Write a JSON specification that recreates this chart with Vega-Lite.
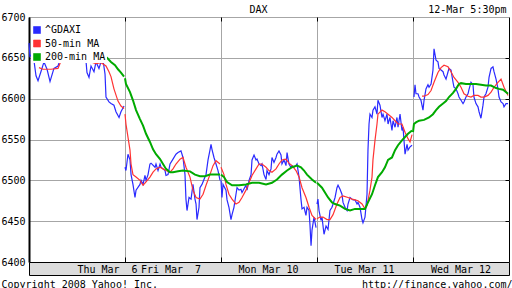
{
"$schema": "https://vega.github.io/schema/vega-lite/v6.json",
"background": "white",
"autosize": {"type": "pad"},
"padding": {"left": 0, "top": 3, "right": 0, "bottom": 0},
"bounds": "flush",
"spacing": 0,
"config": {
  "font": "DejaVu Sans Mono",
  "axis": {"labelFont": "DejaVu Sans Mono", "labelFontSize": 10, "labelColor": "#000", "titleFont": "DejaVu Sans Mono", "titleFontSize": 10, "titleFontWeight": "normal", "titleColor": "#000"},
  "legend": {"labelFont": "DejaVu Sans Mono", "labelFontSize": 10, "labelColor": "#000", "orient": "none", "legendX": 2, "legendY": 7, "direction": "vertical", "symbolType": "square", "symbolSize": 49, "symbolStrokeWidth": 0.6, "symbolStrokeColor": "#222", "labelOffset": 3, "rowPadding": 3.5, "padding": 1, "fillColor": "white", "labelLimit": 0}
},
"datasets": {"px": [
{"s":"^GDAXI","d":0,"t":0.000,"v":6668},{"s":"^GDAXI","d":0,"t":0.010,"v":6652},{"s":"^GDAXI","d":0,"t":0.042,"v":6655},{"s":"^GDAXI","d":0,"t":0.073,"v":6628},{"s":"^GDAXI","d":0,"t":0.094,"v":6622},{"s":"^GDAXI","d":0,"t":0.135,"v":6637},{"s":"^GDAXI","d":0,"t":0.156,"v":6645},{"s":"^GDAXI","d":0,"t":0.188,"v":6636},{"s":"^GDAXI","d":0,"t":0.219,"v":6621},{"s":"^GDAXI","d":0,"t":0.260,"v":6637},{"s":"^GDAXI","d":0,"t":0.302,"v":6640},{"s":"^GDAXI","d":0,"t":0.323,"v":6647},{"s":"^GDAXI","d":0,"t":0.354,"v":6661},{"s":"^GDAXI","d":0,"t":0.438,"v":6662},{"s":"^GDAXI","d":0,"t":0.521,"v":6660},{"s":"^GDAXI","d":0,"t":0.583,"v":6661},{"s":"^GDAXI","d":0,"t":0.604,"v":6632},{"s":"^GDAXI","d":0,"t":0.625,"v":6626},{"s":"^GDAXI","d":0,"t":0.646,"v":6640},{"s":"^GDAXI","d":0,"t":0.677,"v":6633},{"s":"^GDAXI","d":0,"t":0.698,"v":6645},{"s":"^GDAXI","d":0,"t":0.729,"v":6637},{"s":"^GDAXI","d":0,"t":0.750,"v":6645},{"s":"^GDAXI","d":0,"t":0.771,"v":6647},{"s":"^GDAXI","d":0,"t":0.792,"v":6630},{"s":"^GDAXI","d":0,"t":0.802,"v":6602},{"s":"^GDAXI","d":0,"t":0.833,"v":6596},{"s":"^GDAXI","d":0,"t":0.854,"v":6594},{"s":"^GDAXI","d":0,"t":0.885,"v":6592},{"s":"^GDAXI","d":0,"t":0.906,"v":6584},{"s":"^GDAXI","d":0,"t":0.938,"v":6577},{"s":"^GDAXI","d":0,"t":0.958,"v":6584},{"s":"^GDAXI","d":0,"t":0.990,"v":6591},
{"s":"^GDAXI","d":1,"t":1.000,"v":6516},{"s":"^GDAXI","d":1,"t":1.010,"v":6512},{"s":"^GDAXI","d":1,"t":1.031,"v":6532},{"s":"^GDAXI","d":1,"t":1.052,"v":6525},{"s":"^GDAXI","d":1,"t":1.063,"v":6507},{"s":"^GDAXI","d":1,"t":1.083,"v":6495},{"s":"^GDAXI","d":1,"t":1.104,"v":6479},{"s":"^GDAXI","d":1,"t":1.115,"v":6488},{"s":"^GDAXI","d":1,"t":1.156,"v":6495},{"s":"^GDAXI","d":1,"t":1.167,"v":6500},{"s":"^GDAXI","d":1,"t":1.188,"v":6495},{"s":"^GDAXI","d":1,"t":1.208,"v":6506},{"s":"^GDAXI","d":1,"t":1.219,"v":6500},{"s":"^GDAXI","d":1,"t":1.240,"v":6507},{"s":"^GDAXI","d":1,"t":1.260,"v":6520},{"s":"^GDAXI","d":1,"t":1.271,"v":6521},{"s":"^GDAXI","d":1,"t":1.313,"v":6516},{"s":"^GDAXI","d":1,"t":1.323,"v":6520},{"s":"^GDAXI","d":1,"t":1.344,"v":6512},{"s":"^GDAXI","d":1,"t":1.365,"v":6520},{"s":"^GDAXI","d":1,"t":1.375,"v":6516},{"s":"^GDAXI","d":1,"t":1.417,"v":6512},{"s":"^GDAXI","d":1,"t":1.427,"v":6506},{"s":"^GDAXI","d":1,"t":1.448,"v":6507},{"s":"^GDAXI","d":1,"t":1.469,"v":6520},{"s":"^GDAXI","d":1,"t":1.500,"v":6526},{"s":"^GDAXI","d":1,"t":1.531,"v":6532},{"s":"^GDAXI","d":1,"t":1.552,"v":6534},{"s":"^GDAXI","d":1,"t":1.583,"v":6536},{"s":"^GDAXI","d":1,"t":1.604,"v":6528},{"s":"^GDAXI","d":1,"t":1.625,"v":6507},{"s":"^GDAXI","d":1,"t":1.635,"v":6477},{"s":"^GDAXI","d":1,"t":1.646,"v":6463},{"s":"^GDAXI","d":1,"t":1.667,"v":6479},{"s":"^GDAXI","d":1,"t":1.688,"v":6477},{"s":"^GDAXI","d":1,"t":1.708,"v":6495},{"s":"^GDAXI","d":1,"t":1.729,"v":6477},{"s":"^GDAXI","d":1,"t":1.740,"v":6471},{"s":"^GDAXI","d":1,"t":1.750,"v":6452},{"s":"^GDAXI","d":1,"t":1.771,"v":6467},{"s":"^GDAXI","d":1,"t":1.781,"v":6491},{"s":"^GDAXI","d":1,"t":1.802,"v":6495},{"s":"^GDAXI","d":1,"t":1.833,"v":6504},{"s":"^GDAXI","d":1,"t":1.844,"v":6507},{"s":"^GDAXI","d":1,"t":1.865,"v":6525},{"s":"^GDAXI","d":1,"t":1.885,"v":6537},{"s":"^GDAXI","d":1,"t":1.896,"v":6544},{"s":"^GDAXI","d":1,"t":1.906,"v":6538},{"s":"^GDAXI","d":1,"t":1.927,"v":6528},{"s":"^GDAXI","d":1,"t":1.948,"v":6520},{"s":"^GDAXI","d":1,"t":1.969,"v":6512},{"s":"^GDAXI","d":1,"t":1.990,"v":6500},
{"s":"^GDAXI","d":2,"t":2.000,"v":6500},{"s":"^GDAXI","d":2,"t":2.010,"v":6479},{"s":"^GDAXI","d":2,"t":2.021,"v":6495},{"s":"^GDAXI","d":2,"t":2.052,"v":6488},{"s":"^GDAXI","d":2,"t":2.063,"v":6476},{"s":"^GDAXI","d":2,"t":2.083,"v":6467},{"s":"^GDAXI","d":2,"t":2.104,"v":6452},{"s":"^GDAXI","d":2,"t":2.115,"v":6458},{"s":"^GDAXI","d":2,"t":2.135,"v":6467},{"s":"^GDAXI","d":2,"t":2.156,"v":6483},{"s":"^GDAXI","d":2,"t":2.167,"v":6491},{"s":"^GDAXI","d":2,"t":2.188,"v":6488},{"s":"^GDAXI","d":2,"t":2.208,"v":6489},{"s":"^GDAXI","d":2,"t":2.219,"v":6485},{"s":"^GDAXI","d":2,"t":2.260,"v":6494},{"s":"^GDAXI","d":2,"t":2.271,"v":6488},{"s":"^GDAXI","d":2,"t":2.292,"v":6500},{"s":"^GDAXI","d":2,"t":2.313,"v":6507},{"s":"^GDAXI","d":2,"t":2.323,"v":6525},{"s":"^GDAXI","d":2,"t":2.344,"v":6531},{"s":"^GDAXI","d":2,"t":2.365,"v":6525},{"s":"^GDAXI","d":2,"t":2.375,"v":6526},{"s":"^GDAXI","d":2,"t":2.396,"v":6520},{"s":"^GDAXI","d":2,"t":2.417,"v":6518},{"s":"^GDAXI","d":2,"t":2.427,"v":6520},{"s":"^GDAXI","d":2,"t":2.448,"v":6507},{"s":"^GDAXI","d":2,"t":2.469,"v":6501},{"s":"^GDAXI","d":2,"t":2.479,"v":6512},{"s":"^GDAXI","d":2,"t":2.500,"v":6507},{"s":"^GDAXI","d":2,"t":2.521,"v":6514},{"s":"^GDAXI","d":2,"t":2.531,"v":6528},{"s":"^GDAXI","d":2,"t":2.552,"v":6522},{"s":"^GDAXI","d":2,"t":2.573,"v":6528},{"s":"^GDAXI","d":2,"t":2.583,"v":6532},{"s":"^GDAXI","d":2,"t":2.604,"v":6536},{"s":"^GDAXI","d":2,"t":2.625,"v":6531},{"s":"^GDAXI","d":2,"t":2.635,"v":6520},{"s":"^GDAXI","d":2,"t":2.656,"v":6525},{"s":"^GDAXI","d":2,"t":2.677,"v":6518},{"s":"^GDAXI","d":2,"t":2.688,"v":6534},{"s":"^GDAXI","d":2,"t":2.708,"v":6520},{"s":"^GDAXI","d":2,"t":2.729,"v":6516},{"s":"^GDAXI","d":2,"t":2.740,"v":6518},{"s":"^GDAXI","d":2,"t":2.760,"v":6516},{"s":"^GDAXI","d":2,"t":2.781,"v":6518},{"s":"^GDAXI","d":2,"t":2.792,"v":6520},{"s":"^GDAXI","d":2,"t":2.813,"v":6504},{"s":"^GDAXI","d":2,"t":2.833,"v":6477},{"s":"^GDAXI","d":2,"t":2.844,"v":6465},{"s":"^GDAXI","d":2,"t":2.865,"v":6467},{"s":"^GDAXI","d":2,"t":2.885,"v":6457},{"s":"^GDAXI","d":2,"t":2.896,"v":6467},{"s":"^GDAXI","d":2,"t":2.917,"v":6463},{"s":"^GDAXI","d":2,"t":2.927,"v":6445},{"s":"^GDAXI","d":2,"t":2.938,"v":6420},{"s":"^GDAXI","d":2,"t":2.948,"v":6439},{"s":"^GDAXI","d":2,"t":2.969,"v":6455},{"s":"^GDAXI","d":2,"t":2.990,"v":6442},
{"s":"^GDAXI","d":3,"t":3.000,"v":6471},{"s":"^GDAXI","d":3,"t":3.010,"v":6477},{"s":"^GDAXI","d":3,"t":3.021,"v":6463},{"s":"^GDAXI","d":3,"t":3.042,"v":6451},{"s":"^GDAXI","d":3,"t":3.052,"v":6455},{"s":"^GDAXI","d":3,"t":3.073,"v":6434},{"s":"^GDAXI","d":3,"t":3.094,"v":6444},{"s":"^GDAXI","d":3,"t":3.115,"v":6440},{"s":"^GDAXI","d":3,"t":3.135,"v":6463},{"s":"^GDAXI","d":3,"t":3.156,"v":6467},{"s":"^GDAXI","d":3,"t":3.167,"v":6471},{"s":"^GDAXI","d":3,"t":3.188,"v":6479},{"s":"^GDAXI","d":3,"t":3.208,"v":6491},{"s":"^GDAXI","d":3,"t":3.219,"v":6494},{"s":"^GDAXI","d":3,"t":3.240,"v":6489},{"s":"^GDAXI","d":3,"t":3.260,"v":6483},{"s":"^GDAXI","d":3,"t":3.271,"v":6473},{"s":"^GDAXI","d":3,"t":3.292,"v":6467},{"s":"^GDAXI","d":3,"t":3.313,"v":6463},{"s":"^GDAXI","d":3,"t":3.323,"v":6471},{"s":"^GDAXI","d":3,"t":3.344,"v":6479},{"s":"^GDAXI","d":3,"t":3.365,"v":6477},{"s":"^GDAXI","d":3,"t":3.375,"v":6476},{"s":"^GDAXI","d":3,"t":3.396,"v":6476},{"s":"^GDAXI","d":3,"t":3.417,"v":6471},{"s":"^GDAXI","d":3,"t":3.427,"v":6473},{"s":"^GDAXI","d":3,"t":3.448,"v":6467},{"s":"^GDAXI","d":3,"t":3.469,"v":6452},{"s":"^GDAXI","d":3,"t":3.479,"v":6448},{"s":"^GDAXI","d":3,"t":3.500,"v":6455},{"s":"^GDAXI","d":3,"t":3.521,"v":6483},{"s":"^GDAXI","d":3,"t":3.531,"v":6537},{"s":"^GDAXI","d":3,"t":3.542,"v":6569},{"s":"^GDAXI","d":3,"t":3.552,"v":6581},{"s":"^GDAXI","d":3,"t":3.573,"v":6577},{"s":"^GDAXI","d":3,"t":3.583,"v":6586},{"s":"^GDAXI","d":3,"t":3.604,"v":6590},{"s":"^GDAXI","d":3,"t":3.625,"v":6581},{"s":"^GDAXI","d":3,"t":3.635,"v":6598},{"s":"^GDAXI","d":3,"t":3.656,"v":6592},{"s":"^GDAXI","d":3,"t":3.677,"v":6577},{"s":"^GDAXI","d":3,"t":3.688,"v":6581},{"s":"^GDAXI","d":3,"t":3.708,"v":6573},{"s":"^GDAXI","d":3,"t":3.729,"v":6581},{"s":"^GDAXI","d":3,"t":3.740,"v":6569},{"s":"^GDAXI","d":3,"t":3.760,"v":6577},{"s":"^GDAXI","d":3,"t":3.781,"v":6561},{"s":"^GDAXI","d":3,"t":3.792,"v":6573},{"s":"^GDAXI","d":3,"t":3.813,"v":6565},{"s":"^GDAXI","d":3,"t":3.833,"v":6577},{"s":"^GDAXI","d":3,"t":3.844,"v":6565},{"s":"^GDAXI","d":3,"t":3.865,"v":6581},{"s":"^GDAXI","d":3,"t":3.885,"v":6561},{"s":"^GDAXI","d":3,"t":3.896,"v":6565},{"s":"^GDAXI","d":3,"t":3.917,"v":6532},{"s":"^GDAXI","d":3,"t":3.938,"v":6544},{"s":"^GDAXI","d":3,"t":3.948,"v":6537},{"s":"^GDAXI","d":3,"t":3.969,"v":6541},{"s":"^GDAXI","d":3,"t":3.990,"v":6543},
{"s":"^GDAXI","d":4,"t":4.010,"v":6602},{"s":"^GDAXI","d":4,"t":4.021,"v":6617},{"s":"^GDAXI","d":4,"t":4.031,"v":6606},{"s":"^GDAXI","d":4,"t":4.052,"v":6606},{"s":"^GDAXI","d":4,"t":4.063,"v":6602},{"s":"^GDAXI","d":4,"t":4.083,"v":6598},{"s":"^GDAXI","d":4,"t":4.104,"v":6586},{"s":"^GDAXI","d":4,"t":4.115,"v":6598},{"s":"^GDAXI","d":4,"t":4.135,"v":6612},{"s":"^GDAXI","d":4,"t":4.156,"v":6617},{"s":"^GDAXI","d":4,"t":4.167,"v":6614},{"s":"^GDAXI","d":4,"t":4.188,"v":6618},{"s":"^GDAXI","d":4,"t":4.208,"v":6635},{"s":"^GDAXI","d":4,"t":4.219,"v":6661},{"s":"^GDAXI","d":4,"t":4.240,"v":6647},{"s":"^GDAXI","d":4,"t":4.260,"v":6645},{"s":"^GDAXI","d":4,"t":4.271,"v":6637},{"s":"^GDAXI","d":4,"t":4.292,"v":6635},{"s":"^GDAXI","d":4,"t":4.313,"v":6633},{"s":"^GDAXI","d":4,"t":4.323,"v":6629},{"s":"^GDAXI","d":4,"t":4.344,"v":6624},{"s":"^GDAXI","d":4,"t":4.365,"v":6633},{"s":"^GDAXI","d":4,"t":4.375,"v":6637},{"s":"^GDAXI","d":4,"t":4.396,"v":6635},{"s":"^GDAXI","d":4,"t":4.417,"v":6620},{"s":"^GDAXI","d":4,"t":4.427,"v":6614},{"s":"^GDAXI","d":4,"t":4.448,"v":6612},{"s":"^GDAXI","d":4,"t":4.469,"v":6606},{"s":"^GDAXI","d":4,"t":4.479,"v":6602},{"s":"^GDAXI","d":4,"t":4.500,"v":6598},{"s":"^GDAXI","d":4,"t":4.521,"v":6594},{"s":"^GDAXI","d":4,"t":4.531,"v":6596},{"s":"^GDAXI","d":4,"t":4.552,"v":6602},{"s":"^GDAXI","d":4,"t":4.573,"v":6606},{"s":"^GDAXI","d":4,"t":4.583,"v":6611},{"s":"^GDAXI","d":4,"t":4.604,"v":6620},{"s":"^GDAXI","d":4,"t":4.625,"v":6617},{"s":"^GDAXI","d":4,"t":4.635,"v":6602},{"s":"^GDAXI","d":4,"t":4.656,"v":6594},{"s":"^GDAXI","d":4,"t":4.677,"v":6590},{"s":"^GDAXI","d":4,"t":4.688,"v":6584},{"s":"^GDAXI","d":4,"t":4.708,"v":6576},{"s":"^GDAXI","d":4,"t":4.729,"v":6592},{"s":"^GDAXI","d":4,"t":4.740,"v":6602},{"s":"^GDAXI","d":4,"t":4.760,"v":6606},{"s":"^GDAXI","d":4,"t":4.781,"v":6614},{"s":"^GDAXI","d":4,"t":4.792,"v":6626},{"s":"^GDAXI","d":4,"t":4.813,"v":6637},{"s":"^GDAXI","d":4,"t":4.833,"v":6639},{"s":"^GDAXI","d":4,"t":4.844,"v":6633},{"s":"^GDAXI","d":4,"t":4.865,"v":6624},{"s":"^GDAXI","d":4,"t":4.885,"v":6612},{"s":"^GDAXI","d":4,"t":4.896,"v":6602},{"s":"^GDAXI","d":4,"t":4.917,"v":6596},{"s":"^GDAXI","d":4,"t":4.938,"v":6594},{"s":"^GDAXI","d":4,"t":4.948,"v":6590},{"s":"^GDAXI","d":4,"t":4.969,"v":6594},{"s":"^GDAXI","d":4,"t":4.990,"v":6594},
{"s":"50-min MA","d":0,"t":0.104,"v":6638},{"s":"50-min MA","d":0,"t":0.146,"v":6636},{"s":"50-min MA","d":0,"t":0.229,"v":6636},{"s":"50-min MA","d":0,"t":0.302,"v":6637},{"s":"50-min MA","d":0,"t":0.333,"v":6646},{"s":"50-min MA","d":0,"t":0.375,"v":6656},{"s":"50-min MA","d":0,"t":0.438,"v":6662},{"s":"50-min MA","d":0,"t":0.542,"v":6662},{"s":"50-min MA","d":0,"t":0.594,"v":6655},{"s":"50-min MA","d":0,"t":0.646,"v":6645},{"s":"50-min MA","d":0,"t":0.698,"v":6643},{"s":"50-min MA","d":0,"t":0.750,"v":6644},{"s":"50-min MA","d":0,"t":0.802,"v":6640},{"s":"50-min MA","d":0,"t":0.833,"v":6633},{"s":"50-min MA","d":0,"t":0.854,"v":6627},{"s":"50-min MA","d":0,"t":0.885,"v":6612},{"s":"50-min MA","d":0,"t":0.927,"v":6597},{"s":"50-min MA","d":0,"t":0.958,"v":6591},{"s":"50-min MA","d":0,"t":0.990,"v":6588},
{"s":"50-min MA","d":1,"t":1.000,"v":6581},{"s":"50-min MA","d":1,"t":1.010,"v":6569},{"s":"50-min MA","d":1,"t":1.031,"v":6553},{"s":"50-min MA","d":1,"t":1.052,"v":6537},{"s":"50-min MA","d":1,"t":1.063,"v":6520},{"s":"50-min MA","d":1,"t":1.083,"v":6507},{"s":"50-min MA","d":1,"t":1.115,"v":6504},{"s":"50-min MA","d":1,"t":1.156,"v":6500},{"s":"50-min MA","d":1,"t":1.188,"v":6494},{"s":"50-min MA","d":1,"t":1.219,"v":6498},{"s":"50-min MA","d":1,"t":1.260,"v":6504},{"s":"50-min MA","d":1,"t":1.292,"v":6510},{"s":"50-min MA","d":1,"t":1.323,"v":6514},{"s":"50-min MA","d":1,"t":1.365,"v":6516},{"s":"50-min MA","d":1,"t":1.396,"v":6514},{"s":"50-min MA","d":1,"t":1.427,"v":6512},{"s":"50-min MA","d":1,"t":1.469,"v":6510},{"s":"50-min MA","d":1,"t":1.500,"v":6514},{"s":"50-min MA","d":1,"t":1.531,"v":6520},{"s":"50-min MA","d":1,"t":1.573,"v":6526},{"s":"50-min MA","d":1,"t":1.604,"v":6528},{"s":"50-min MA","d":1,"t":1.635,"v":6516},{"s":"50-min MA","d":1,"t":1.677,"v":6504},{"s":"50-min MA","d":1,"t":1.708,"v":6488},{"s":"50-min MA","d":1,"t":1.740,"v":6479},{"s":"50-min MA","d":1,"t":1.781,"v":6477},{"s":"50-min MA","d":1,"t":1.813,"v":6483},{"s":"50-min MA","d":1,"t":1.844,"v":6494},{"s":"50-min MA","d":1,"t":1.885,"v":6507},{"s":"50-min MA","d":1,"t":1.917,"v":6518},{"s":"50-min MA","d":1,"t":1.948,"v":6524},{"s":"50-min MA","d":1,"t":1.990,"v":6520},
{"s":"50-min MA","d":2,"t":2.000,"v":6516},{"s":"50-min MA","d":2,"t":2.031,"v":6507},{"s":"50-min MA","d":2,"t":2.052,"v":6495},{"s":"50-min MA","d":2,"t":2.083,"v":6483},{"s":"50-min MA","d":2,"t":2.115,"v":6477},{"s":"50-min MA","d":2,"t":2.156,"v":6471},{"s":"50-min MA","d":2,"t":2.188,"v":6473},{"s":"50-min MA","d":2,"t":2.219,"v":6479},{"s":"50-min MA","d":2,"t":2.260,"v":6488},{"s":"50-min MA","d":2,"t":2.292,"v":6497},{"s":"50-min MA","d":2,"t":2.323,"v":6506},{"s":"50-min MA","d":2,"t":2.365,"v":6514},{"s":"50-min MA","d":2,"t":2.396,"v":6520},{"s":"50-min MA","d":2,"t":2.427,"v":6520},{"s":"50-min MA","d":2,"t":2.469,"v":6516},{"s":"50-min MA","d":2,"t":2.500,"v":6512},{"s":"50-min MA","d":2,"t":2.531,"v":6510},{"s":"50-min MA","d":2,"t":2.573,"v":6514},{"s":"50-min MA","d":2,"t":2.604,"v":6520},{"s":"50-min MA","d":2,"t":2.635,"v":6525},{"s":"50-min MA","d":2,"t":2.677,"v":6526},{"s":"50-min MA","d":2,"t":2.708,"v":6521},{"s":"50-min MA","d":2,"t":2.740,"v":6518},{"s":"50-min MA","d":2,"t":2.781,"v":6512},{"s":"50-min MA","d":2,"t":2.813,"v":6504},{"s":"50-min MA","d":2,"t":2.844,"v":6491},{"s":"50-min MA","d":2,"t":2.885,"v":6479},{"s":"50-min MA","d":2,"t":2.917,"v":6467},{"s":"50-min MA","d":2,"t":2.948,"v":6457},{"s":"50-min MA","d":2,"t":2.990,"v":6452},
{"s":"50-min MA","d":3,"t":3.000,"v":6453},{"s":"50-min MA","d":3,"t":3.031,"v":6455},{"s":"50-min MA","d":3,"t":3.063,"v":6455},{"s":"50-min MA","d":3,"t":3.104,"v":6452},{"s":"50-min MA","d":3,"t":3.135,"v":6452},{"s":"50-min MA","d":3,"t":3.167,"v":6458},{"s":"50-min MA","d":3,"t":3.208,"v":6471},{"s":"50-min MA","d":3,"t":3.240,"v":6479},{"s":"50-min MA","d":3,"t":3.271,"v":6481},{"s":"50-min MA","d":3,"t":3.323,"v":6479},{"s":"50-min MA","d":3,"t":3.365,"v":6477},{"s":"50-min MA","d":3,"t":3.396,"v":6476},{"s":"50-min MA","d":3,"t":3.427,"v":6475},{"s":"50-min MA","d":3,"t":3.469,"v":6471},{"s":"50-min MA","d":3,"t":3.500,"v":6465},{"s":"50-min MA","d":3,"t":3.521,"v":6469},{"s":"50-min MA","d":3,"t":3.552,"v":6488},{"s":"50-min MA","d":3,"t":3.573,"v":6504},{"s":"50-min MA","d":3,"t":3.583,"v":6525},{"s":"50-min MA","d":3,"t":3.604,"v":6549},{"s":"50-min MA","d":3,"t":3.625,"v":6569},{"s":"50-min MA","d":3,"t":3.635,"v":6581},{"s":"50-min MA","d":3,"t":3.677,"v":6586},{"s":"50-min MA","d":3,"t":3.708,"v":6584},{"s":"50-min MA","d":3,"t":3.740,"v":6581},{"s":"50-min MA","d":3,"t":3.781,"v":6577},{"s":"50-min MA","d":3,"t":3.813,"v":6573},{"s":"50-min MA","d":3,"t":3.844,"v":6569},{"s":"50-min MA","d":3,"t":3.885,"v":6569},{"s":"50-min MA","d":3,"t":3.917,"v":6559},{"s":"50-min MA","d":3,"t":3.948,"v":6551},{"s":"50-min MA","d":3,"t":3.969,"v":6547},{"s":"50-min MA","d":3,"t":3.990,"v":6556},
{"s":"50-min MA","d":4,"t":4.094,"v":6603},{"s":"50-min MA","d":4,"t":4.115,"v":6603},{"s":"50-min MA","d":4,"t":4.156,"v":6605},{"s":"50-min MA","d":4,"t":4.188,"v":6610},{"s":"50-min MA","d":4,"t":4.219,"v":6620},{"s":"50-min MA","d":4,"t":4.260,"v":6632},{"s":"50-min MA","d":4,"t":4.292,"v":6638},{"s":"50-min MA","d":4,"t":4.323,"v":6641},{"s":"50-min MA","d":4,"t":4.365,"v":6639},{"s":"50-min MA","d":4,"t":4.396,"v":6633},{"s":"50-min MA","d":4,"t":4.427,"v":6626},{"s":"50-min MA","d":4,"t":4.469,"v":6620},{"s":"50-min MA","d":4,"t":4.500,"v":6614},{"s":"50-min MA","d":4,"t":4.531,"v":6606},{"s":"50-min MA","d":4,"t":4.573,"v":6603},{"s":"50-min MA","d":4,"t":4.604,"v":6602},{"s":"50-min MA","d":4,"t":4.635,"v":6604},{"s":"50-min MA","d":4,"t":4.677,"v":6604},{"s":"50-min MA","d":4,"t":4.708,"v":6602},{"s":"50-min MA","d":4,"t":4.740,"v":6602},{"s":"50-min MA","d":4,"t":4.781,"v":6604},{"s":"50-min MA","d":4,"t":4.813,"v":6608},{"s":"50-min MA","d":4,"t":4.844,"v":6614},{"s":"50-min MA","d":4,"t":4.885,"v":6620},{"s":"50-min MA","d":4,"t":4.917,"v":6624},{"s":"50-min MA","d":4,"t":4.948,"v":6614},{"s":"50-min MA","d":4,"t":4.990,"v":6604},
{"s":"200-min MA","d":0,"t":0.771,"v":6653},{"s":"200-min MA","d":0,"t":0.813,"v":6650},{"s":"200-min MA","d":0,"t":0.854,"v":6645},{"s":"200-min MA","d":0,"t":0.896,"v":6641},{"s":"200-min MA","d":0,"t":0.927,"v":6636},{"s":"200-min MA","d":0,"t":0.958,"v":6632},{"s":"200-min MA","d":0,"t":0.990,"v":6627},
{"s":"200-min MA","d":1,"t":1.000,"v":6625},{"s":"200-min MA","d":1,"t":1.010,"v":6618},{"s":"200-min MA","d":1,"t":1.052,"v":6608},{"s":"200-min MA","d":1,"t":1.083,"v":6598},{"s":"200-min MA","d":1,"t":1.115,"v":6586},{"s":"200-min MA","d":1,"t":1.156,"v":6575},{"s":"200-min MA","d":1,"t":1.188,"v":6567},{"s":"200-min MA","d":1,"t":1.219,"v":6557},{"s":"200-min MA","d":1,"t":1.260,"v":6547},{"s":"200-min MA","d":1,"t":1.292,"v":6538},{"s":"200-min MA","d":1,"t":1.323,"v":6532},{"s":"200-min MA","d":1,"t":1.365,"v":6526},{"s":"200-min MA","d":1,"t":1.396,"v":6520},{"s":"200-min MA","d":1,"t":1.427,"v":6514},{"s":"200-min MA","d":1,"t":1.469,"v":6510},{"s":"200-min MA","d":1,"t":1.500,"v":6510},{"s":"200-min MA","d":1,"t":1.552,"v":6511},{"s":"200-min MA","d":1,"t":1.604,"v":6512},{"s":"200-min MA","d":1,"t":1.677,"v":6511},{"s":"200-min MA","d":1,"t":1.729,"v":6507},{"s":"200-min MA","d":1,"t":1.781,"v":6505},{"s":"200-min MA","d":1,"t":1.833,"v":6505},{"s":"200-min MA","d":1,"t":1.885,"v":6507},{"s":"200-min MA","d":1,"t":1.938,"v":6507},{"s":"200-min MA","d":1,"t":1.990,"v":6507},
{"s":"200-min MA","d":2,"t":2.000,"v":6507},{"s":"200-min MA","d":2,"t":2.031,"v":6504},{"s":"200-min MA","d":2,"t":2.063,"v":6498},{"s":"200-min MA","d":2,"t":2.115,"v":6494},{"s":"200-min MA","d":2,"t":2.188,"v":6494},{"s":"200-min MA","d":2,"t":2.260,"v":6495},{"s":"200-min MA","d":2,"t":2.323,"v":6497},{"s":"200-min MA","d":2,"t":2.396,"v":6497},{"s":"200-min MA","d":2,"t":2.469,"v":6495},{"s":"200-min MA","d":2,"t":2.531,"v":6497},{"s":"200-min MA","d":2,"t":2.583,"v":6501},{"s":"200-min MA","d":2,"t":2.635,"v":6507},{"s":"200-min MA","d":2,"t":2.688,"v":6512},{"s":"200-min MA","d":2,"t":2.740,"v":6516},{"s":"200-min MA","d":2,"t":2.792,"v":6518},{"s":"200-min MA","d":2,"t":2.833,"v":6516},{"s":"200-min MA","d":2,"t":2.865,"v":6512},{"s":"200-min MA","d":2,"t":2.896,"v":6507},{"s":"200-min MA","d":2,"t":2.948,"v":6501},{"s":"200-min MA","d":2,"t":2.990,"v":6497},
{"s":"200-min MA","d":3,"t":3.000,"v":6497},{"s":"200-min MA","d":3,"t":3.052,"v":6491},{"s":"200-min MA","d":3,"t":3.083,"v":6485},{"s":"200-min MA","d":3,"t":3.115,"v":6479},{"s":"200-min MA","d":3,"t":3.156,"v":6473},{"s":"200-min MA","d":3,"t":3.188,"v":6471},{"s":"200-min MA","d":3,"t":3.240,"v":6469},{"s":"200-min MA","d":3,"t":3.292,"v":6465},{"s":"200-min MA","d":3,"t":3.344,"v":6463},{"s":"200-min MA","d":3,"t":3.396,"v":6465},{"s":"200-min MA","d":3,"t":3.448,"v":6465},{"s":"200-min MA","d":3,"t":3.500,"v":6465},{"s":"200-min MA","d":3,"t":3.531,"v":6473},{"s":"200-min MA","d":3,"t":3.573,"v":6483},{"s":"200-min MA","d":3,"t":3.604,"v":6494},{"s":"200-min MA","d":3,"t":3.635,"v":6504},{"s":"200-min MA","d":3,"t":3.677,"v":6510},{"s":"200-min MA","d":3,"t":3.708,"v":6516},{"s":"200-min MA","d":3,"t":3.740,"v":6525},{"s":"200-min MA","d":3,"t":3.781,"v":6528},{"s":"200-min MA","d":3,"t":3.813,"v":6537},{"s":"200-min MA","d":3,"t":3.844,"v":6543},{"s":"200-min MA","d":3,"t":3.885,"v":6549},{"s":"200-min MA","d":3,"t":3.917,"v":6553},{"s":"200-min MA","d":3,"t":3.948,"v":6557},{"s":"200-min MA","d":3,"t":3.990,"v":6561},
{"s":"200-min MA","d":4,"t":4.000,"v":6559},{"s":"200-min MA","d":4,"t":4.010,"v":6569},{"s":"200-min MA","d":4,"t":4.031,"v":6571},{"s":"200-min MA","d":4,"t":4.063,"v":6573},{"s":"200-min MA","d":4,"t":4.115,"v":6574},{"s":"200-min MA","d":4,"t":4.167,"v":6577},{"s":"200-min MA","d":4,"t":4.208,"v":6581},{"s":"200-min MA","d":4,"t":4.240,"v":6586},{"s":"200-min MA","d":4,"t":4.271,"v":6590},{"s":"200-min MA","d":4,"t":4.313,"v":6594},{"s":"200-min MA","d":4,"t":4.344,"v":6597},{"s":"200-min MA","d":4,"t":4.375,"v":6602},{"s":"200-min MA","d":4,"t":4.417,"v":6607},{"s":"200-min MA","d":4,"t":4.448,"v":6612},{"s":"200-min MA","d":4,"t":4.479,"v":6618},{"s":"200-min MA","d":4,"t":4.500,"v":6619},{"s":"200-min MA","d":4,"t":4.552,"v":6618},{"s":"200-min MA","d":4,"t":4.604,"v":6618},{"s":"200-min MA","d":4,"t":4.656,"v":6618},{"s":"200-min MA","d":4,"t":4.708,"v":6617},{"s":"200-min MA","d":4,"t":4.760,"v":6616},{"s":"200-min MA","d":4,"t":4.813,"v":6616},{"s":"200-min MA","d":4,"t":4.865,"v":6613},{"s":"200-min MA","d":4,"t":4.896,"v":6612},{"s":"200-min MA","d":4,"t":4.938,"v":6611},{"s":"200-min MA","d":4,"t":4.990,"v":6606}
]},
"vconcat": [
  {
    "width": 480, "height": 245,
    "view": {"stroke": "#000", "strokeWidth": 1, "fill": "white"},
    "data": {"name": "px"},
    "layer": [
      {
        "transform": [{"filter": "datum.s != '200-min MA'"}],
        "mark": {"type": "line", "strokeWidth": 1.2},
        "encoding": {
          "x": {"field": "t", "type": "quantitative", "scale": {"domain": [0, 5], "nice": false, "zero": false},
            "axis": {"orient": "bottom", "values": [1, 2, 3, 4], "labels": false, "ticks": true, "tickSize": -5, "tickColor": "#000", "tickWidth": 1, "domain": false, "grid": true, "gridColor": "#a6a6a6", "gridWidth": 1, "gridOpacity": 1,
              "title": "http://finance.yahoo.com/", "titleAngle": 0, "titleAlign": "right", "titleBaseline": "alphabetic", "titleX": 483, "titleY": 25}},
          "y": {"field": "v", "type": "quantitative", "scale": {"domain": [6400, 6700], "nice": false, "zero": false},
            "axis": {"orient": "left", "values": [6400, 6450, 6500, 6550, 6600, 6650, 6700], "format": "d", "ticks": false, "labelPadding": 4, "labelFlush": false, "labelOverlap": false, "labelBound": false, "domain": true, "domainColor": "#000", "domainWidth": 2, "grid": true, "gridColor": "#a6a6a6", "gridWidth": 1, "gridOpacity": 1,
              "title": "Copyright 2008 Yahoo! Inc.", "titleAngle": 0, "titleAlign": "left", "titleBaseline": "alphabetic", "titleX": -28, "titleY": 270}},
          "color": {"field": "s", "type": "nominal",
            "scale": {"domain": ["^GDAXI", "50-min MA", "200-min MA"], "range": ["#2a2aff", "#ff3333", "#00aa00"]},
            "legend": {"title": null,
              "encode": {"symbols": {"update": {"fill": {"scale": "color", "field": "value"}, "fillOpacity": {"value": 1}}}}}},
          "detail": {"field": "d", "type": "nominal"}
        }
      },
      {
        "transform": [{"filter": "datum.s == '200-min MA'"}],
        "mark": {"type": "line", "strokeWidth": 2},
        "encoding": {
          "x": {"field": "t", "type": "quantitative", "axis": null},
          "y": {"field": "v", "type": "quantitative", "axis": null},
          "color": {"field": "s", "type": "nominal", "legend": {"title": null,
              "encode": {"symbols": {"update": {"fill": {"scale": "color", "field": "value"}, "fillOpacity": {"value": 1}}}}}},
          "detail": {"field": "d", "type": "nominal"}
        }
      },
      {
        "mark": {"type": "point", "opacity": 0},
        "encoding": {
          "x": {"field": "t", "type": "quantitative",
            "axis": {"orient": "top", "values": [1, 2, 3, 4], "labels": false, "ticks": true, "tickSize": -4, "tickColor": "#000", "domain": false, "grid": false,
              "title": "DAX", "titleAngle": 0, "titleAlign": "center", "titleBaseline": "alphabetic", "titleX": 229, "titleY": -5}},
          "y": {"field": "v", "type": "quantitative",
            "axis": {"orient": "right", "values": [6450, 6500, 6550, 6600, 6650], "labels": false, "ticks": true, "tickSize": -4, "tickColor": "#000", "domain": false, "grid": false,
              "title": "12-Mar 5:30pm", "titleAngle": 0, "titleAlign": "right", "titleBaseline": "alphabetic", "titleX": -3, "titleY": -5}}
        }
      }
    ],
    "resolve": {"axis": {"x": "independent", "y": "independent"}}
  },
  {
    "width": 480, "height": 13,
    "view": {"stroke": "#000", "strokeWidth": 1, "fill": "#dcdcdc"},
    "data": {"name": "px"},
    "transform": [{"filter": "datum.s == '200-min MA'"}],
    "mark": {"type": "tick", "opacity": 0},
    "encoding": {
      "x": {"field": "t", "type": "quantitative", "scale": {"domain": [0, 5], "nice": false, "zero": false},
        "axis": {"orient": "bottom", "values": [0.8125, 1.474, 2.49, 3.49, 4.495],
          "labelExpr": "datum.value < 1 ? 'Thu Mar \u00a06' : datum.value < 2 ? 'Fri Mar \u00a07' : datum.value < 3 ? 'Mon Mar 10' : datum.value < 4 ? 'Tue Mar 11' : 'Wed Mar 12'",
          "ticks": false, "tickSize": 0, "domain": false, "grid": false, "labelPadding": -2.5, "labelBaseline": "alphabetic", "labelFlush": false, "labelOverlap": false, "labelBound": false, "title": null}}
    }
  }
]
}
